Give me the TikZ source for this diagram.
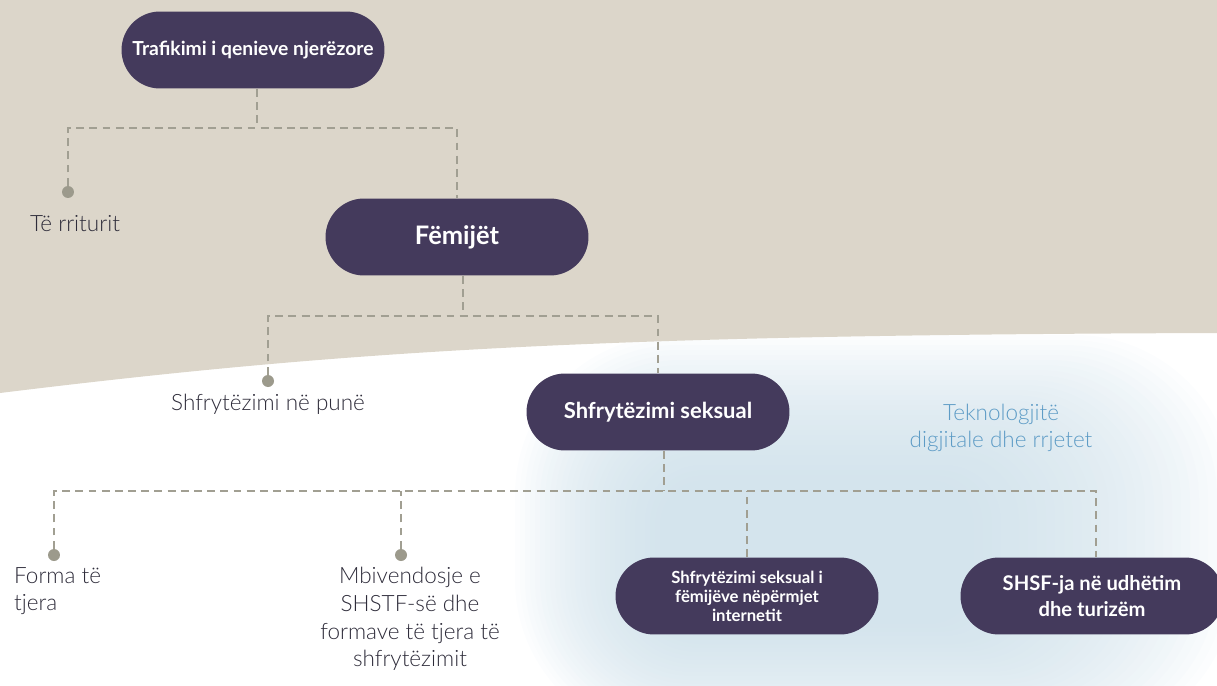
\documentclass[tikz,border=0pt]{standalone}
\usepackage{fontspec}
\setmainfont{Lato}
\newfontfamily\latolight{Lato Light}
\usetikzlibrary{positioning,shapes.misc}

\definecolor{sand}{HTML}{DCD6CA}
\definecolor{plum}{HTML}{443A5C}
\definecolor{dashgray}{HTML}{A19F92}
\definecolor{dotgray}{HTML}{9C9A8C}
\definecolor{inktext}{HTML}{2E2C3A}
\definecolor{skyblue}{HTML}{5E9CC6}
\definecolor{glowblue}{HTML}{C9DDE8}

\tikzset{
  pill/.style={rounded rectangle, fill=plum, text=white, align=center,
    minimum width=5.26cm, minimum height=1.54cm, inner sep=0pt},
  link/.style={dashgray, line width=1.1pt, dash pattern=on 4.5pt off 3pt},
  dot/.style={circle, fill=dotgray, minimum size=0.24cm, inner sep=0pt},
  lbl/.style={text=inktext, align=center, font=\latolight\fontsize{12.8}{15.3}\selectfont},
}

\begin{document}
\begin{tikzpicture}[x=0.02cm, y=-0.02cm]
    \useasboundingbox (0,0) rectangle (1217,686);

    % soft blue glow behind the digital branch
    \foreach \k [evaluate=\k as \r using 3.2-0.08*\k] in {0,...,29}
      \fill[glowblue, opacity=0.05, rounded corners=\r cm]
        (515+5*\k,335+5*\k) rectangle (1235-9*\k,740-4*\k);

    % sand background on top
    \fill[sand] (0,0) -- (1217,0) -- (1217,333)
      .. controls (600,335) and (350,350) .. (0,393) -- cycle;

    % boxes
    \node[pill, font=\bfseries\fontsize{11}{13}\selectfont] (trafik) at (253,50) {Trafikimi i qenieve njerëzore};
    \node[pill, font=\bfseries\fontsize{14.5}{17}\selectfont] (femijet) at (457,237) {Fëmijët};
    \node[pill, font=\bfseries\fontsize{12.5}{15}\selectfont] (seksual) at (658,412) {Shfrytëzimi seksual};
    \node[pill, font=\bfseries\fontsize{9.5}{10.8}\selectfont] (internet) at (747,596) {Shfrytëzimi seksual i\\fëmijëve nëpërmjet\\internetit};
    \node[pill, font=\bfseries\fontsize{11.5}{14.7}\selectfont] (turizem) at (1092,596) {SHSF-ja në udhëtim\\dhe turizëm};

    % end points
    \node[dot] (adult) at (68,192) {};
    \node[dot] (pune) at (268,381) {};
    \node[dot] (tjera) at (54,555) {};
    \node[dot] (mbiv) at (401,555) {};

    % junctions
    \coordinate (j1) at (257,128);
    \coordinate (j2) at (463,316);
    \coordinate (j3) at (664,491);
    \coordinate (j4) at (1096,491);

    \draw[link] (trafik.south -| j1) -- (j1);
    \draw[link] (adult) |- (j1) -| (femijet);
    \draw[link] (femijet.south -| j2) -- (j2);
    \draw[link] (pune) |- (j2) -| (seksual);
    \draw[link] (seksual.south -| j3) -- (j3);
    \draw[link] (tjera) |- (j4) -- (turizem.north -| j4);
    \draw[link] (mbiv) -- (mbiv |- j3);
    \draw[link] (internet.north) -- (internet.north |- j3);

    % labels
    \node[lbl] (adultlbl) at (75,224) {Të rriturit};
    \node[lbl] (punelbl) at (268,404) {Shfrytëzimi në punë};
    \node[lbl, align=left, anchor=west] (tjeralbl) at (8,591) {Forma të\\tjera};
    \node[lbl, font=\latolight\fontsize{12.8}{15.7}\selectfont] (mbivlbl) at (410,619) {Mbivendosje e\\SHSTF-së dhe\\formave të tjera të\\shfrytëzimit};
    \node[lbl, text=skyblue] (teklbl) at (1001,428) {Teknologjitë\\digjitale dhe rrjetet};
\end{tikzpicture}
\end{document}
